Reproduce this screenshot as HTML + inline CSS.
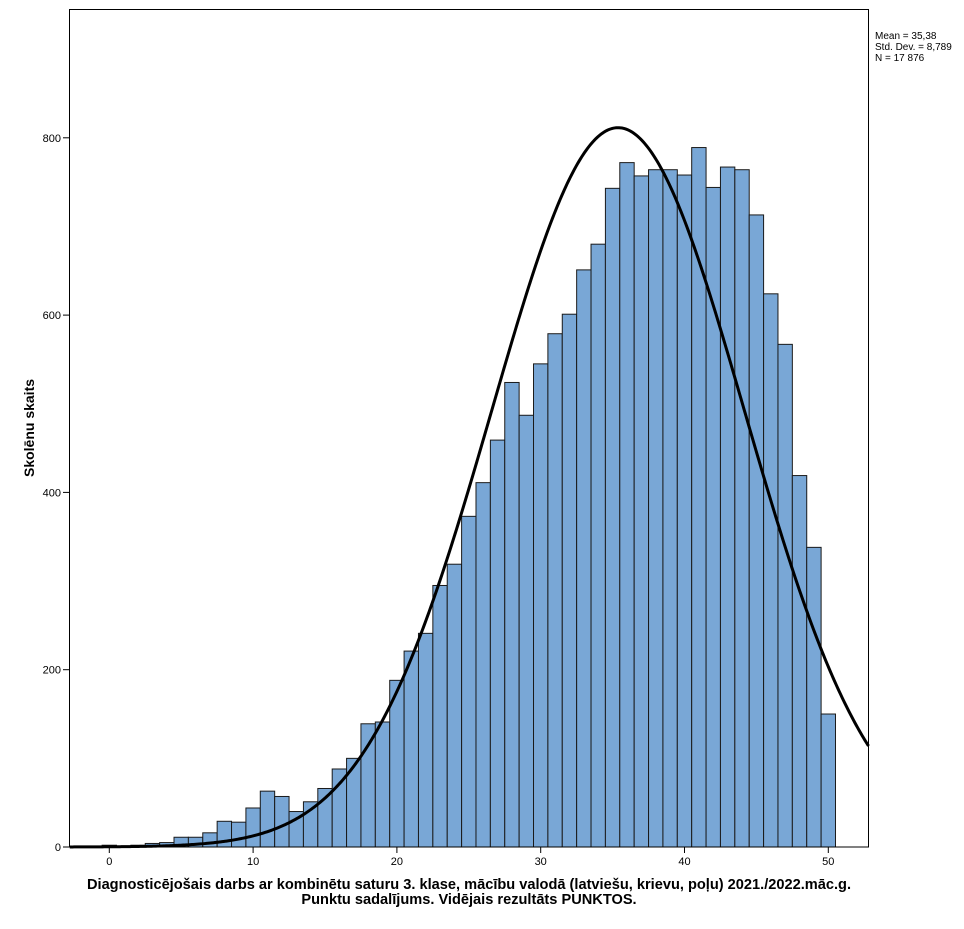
<!DOCTYPE html>
<html><head><meta charset="utf-8"><style>
body{margin:0;background:#fff;}
svg text{font-family:"Liberation Sans",Arial,sans-serif;}
</style></head><body>
<svg id="s" width="964" height="924" xmlns="http://www.w3.org/2000/svg">
<rect x="0" y="0" width="964" height="924" fill="#fff"/>
<g id="bars"></g>
<path id="curve" fill="none" stroke="#000" stroke-width="3"/>
<rect x="69.5" y="9.5" width="799" height="837.5" fill="none" stroke="#000" stroke-width="1"/>
<g id="ticks" font-size="11"></g>
<text x="875" y="39" font-size="10">Mean = 35,38</text>
<text x="875" y="50" font-size="10">Std. Dev. = 8,789</text>
<text x="875" y="61" font-size="10">N = 17 876</text>
<text transform="translate(34,428) rotate(-90)" font-size="14" font-weight="bold" text-anchor="middle">Skolēnu skaits</text>
<text x="469" y="889" font-size="14.6" font-weight="bold" text-anchor="middle">Diagnosticējošais darbs ar kombinētu saturu 3. klase, mācību valodā (latviešu, krievu, poļu) 2021./2022.māc.g.</text>
<text x="469" y="904" font-size="14.6" font-weight="bold" text-anchor="middle">Punktu sadalījums. Vidējais rezultāts PUNKTOS.</text>
</svg>
<script>
var v=[2,1,2,4,5,11,11,16,29,28,44,63,57,40,51,66,88,100,139,141,188,221,241,295,319,373,411,459,524,487,545,579,601,651,680,743,772,757,764,764,758,789,744,767,764,713,624,567,419,338,150];
var X=function(u){return 109.3+u*14.38}, Y=function(c){return 847-c*0.8865};
var b=document.getElementById('bars'),h='';
for(var i=0;i<v.length;i++){var x0=X(i-0.5),y=Y(v[i]);h+='<rect x="'+x0.toFixed(2)+'" y="'+y.toFixed(2)+'" width="14.38" height="'+(847-y).toFixed(2)+'" fill="#79a7d6" stroke="#1a1a1a" stroke-width="1"/>';}
b.innerHTML=h;
var d='',m=35.38,s=8.789,pk=17876/(s*Math.sqrt(2*Math.PI));
for(var u=-2.75;u<=52.9;u+=0.1){var x=X(u);if(x>868.5){u=(868.5-109.3)/14.38;x=868.5;}var c=pk*Math.exp(-0.5*Math.pow((u-m)/s,2));d+=(d?'L':'M')+x.toFixed(2)+','+Y(c).toFixed(2);if(x>=868.5)break;}
document.getElementById('curve').setAttribute('d',d);
var t='';
for(var k=0;k<=50;k+=10){var x=X(k);t+='<line x1="'+x+'" y1="847" x2="'+x+'" y2="853" stroke="#000"/><text x="'+x+'" y="865" text-anchor="middle">'+k+'</text>';}
for(var c=0;c<=800;c+=200){var y=Y(c);t+='<line x1="63" y1="'+y+'" x2="69" y2="'+y+'" stroke="#000"/><text x="61" y="'+(y+4)+'" text-anchor="end">'+c+'</text>';}
document.getElementById('ticks').innerHTML=t;
</script>
</body></html>
